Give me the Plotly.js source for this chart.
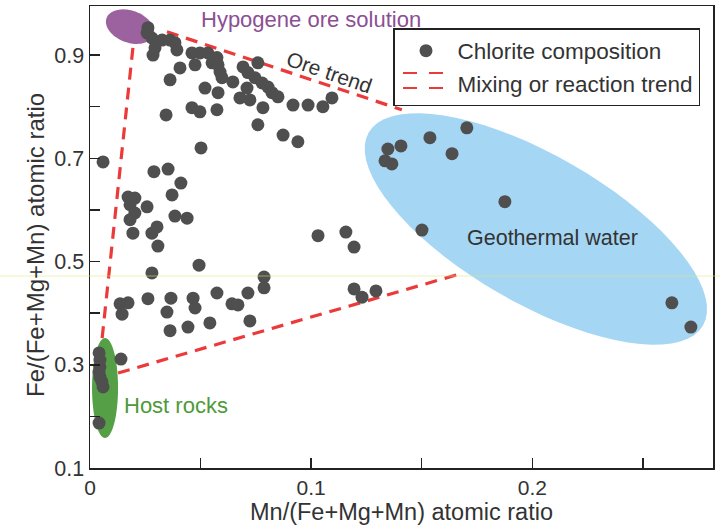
<!DOCTYPE html>
<html>
<head>
<meta charset="utf-8">
<script src="https://cdn.plot.ly/plotly-3.0.1.min.js"></script>
<style>html,body{margin:0;padding:0;background:#fff;}#chart{width:720px;height:525px;}</style>
</head>
<body>
<div id="chart"></div>
<script>
// Chlorite composition: Mn/(Fe+Mg+Mn) vs Fe/(Fe+Mg+Mn)
const chloriteMn = [
  0.0262,0.0258,0.0280,0.0294,0.0285,0.0326,0.0362,0.0384,0.0393,0.0407,0.0362,0.0344,
  0.0461,0.0475,0.0497,0.0533,0.0552,0.0574,0.0579,0.0588,0.0597,0.0520,0.0579,0.0461,
  0.0497,0.0574,0.0502,0.0646,0.0692,0.0714,0.0746,0.0778,0.0805,0.0823,0.0850,0.0759,
  0.0710,0.0678,0.0723,0.0782,0.0759,0.0873,0.0940,0.0918,0.0986,0.1053,0.1094,0.0059,
  0.0289,0.0353,0.0411,0.0371,0.0172,0.0203,0.0181,0.0258,0.0203,0.0181,0.0384,0.0439,
  0.0194,0.0280,0.0303,0.0307,
  0.0280,0.0493,0.0787,0.0787,0.0714,0.0574,0.0642,0.0669,0.0466,0.0475,0.0366,0.0348,
  0.0262,0.0136,0.0172,0.0145,0.0362,0.0443,0.0542,0.0723,0.0140,
  0.0041,0.0045,0.0045,0.0041,0.0045,0.0054,0.0059,0.0041,
  0.1031,0.1157,0.1194,0.1194,0.1230,0.1293,
  0.1704,0.1537,0.1406,0.1347,0.1334,0.1365,0.1637,0.1501,0.1876,0.2631,0.2717
];
const chloriteFe = [
  0.953,0.943,0.933,0.914,0.900,0.929,0.929,0.924,0.910,0.875,0.852,0.784,
  0.904,0.881,0.904,0.904,0.885,0.895,0.881,0.867,0.856,0.836,0.827,0.798,
  0.790,0.794,0.720,0.848,0.877,0.866,0.856,0.846,0.838,0.827,0.819,0.885,
  0.836,0.817,0.813,0.798,0.765,0.745,0.732,0.803,0.803,0.800,0.817,0.693,
  0.674,0.679,0.652,0.629,0.625,0.623,0.610,0.606,0.594,0.581,0.588,0.584,
  0.555,0.555,0.567,0.530,
  0.478,0.493,0.470,0.449,0.439,0.439,0.418,0.416,0.429,0.410,0.429,0.402,
  0.428,0.418,0.420,0.398,0.366,0.373,0.381,0.385,0.311,
  0.323,0.309,0.296,0.286,0.276,0.267,0.257,0.187,
  0.550,0.557,0.528,0.447,0.431,0.443,
  0.759,0.740,0.724,0.718,0.695,0.689,0.709,0.561,0.616,0.420,0.373
];

// Mixing / reaction trend lines (endpoints in data units)
const leftTrendX = [0.0194, 0.0054];
const leftTrendY = [0.914, 0.348];
const oreTrendX = [0.0348, 0.1410];
const oreTrendY = [0.945, 0.794];
const lowTrendX = [0.0127, 0.1673];
const lowTrendY = [0.284, 0.476];

const xTickVals = [0, 0.05, 0.1, 0.15, 0.2, 0.25];
const xTickText = ['0', '', '0.1', '', '0.2', ''];
const yTickVals = [0.1, 0.2, 0.3, 0.4, 0.5, 0.6, 0.7, 0.8, 0.9];
const yTickText = ['0.1', '', '0.3', '', '0.5', '', '0.7', '', '0.9'];

const W = 720, H = 525;
const M = {l: 90, r: 7, t: 6, b: 57};
const xRange = [0, 0.2817];
const yRange = [0.1, 0.995];
const pxX = (W - M.l - M.r) / (xRange[1] - xRange[0]);
const pxY = (H - M.t - M.b) / (yRange[1] - yRange[0]);

// ellipse path: centre in data units, semi-axes in screen px, angle in deg (clockwise on screen)
function ellipsePath(cx, cy, a, b, angDeg) {
  const t = angDeg * Math.PI / 180;
  let p = '';
  for (let i = 0; i <= 72; i++) {
    const u = i / 72 * 2 * Math.PI;
    const ex = a * Math.cos(u), ey = b * Math.sin(u);
    const sx = ex * Math.cos(t) - ey * Math.sin(t);
    const sy = ex * Math.sin(t) + ey * Math.cos(t);
    const dx = cx + sx / pxX, dy = cy - sy / pxY;
    p += (i === 0 ? 'M' : 'L') + dx.toFixed(5) + ',' + dy.toFixed(5);
  }
  return p + 'Z';
}

const FONT = 'Arial, "Liberation Sans", sans-serif';
const RED = '#ec3a3a';
const dashRed = {color: RED, width: 3.2, dash: '12px,8px'};

const traces = [
  {x: leftTrendX, y: leftTrendY, mode: 'lines', line: dashRed, showlegend: false, hoverinfo: 'skip'},
  {x: oreTrendX, y: oreTrendY, mode: 'lines', line: dashRed, showlegend: false, hoverinfo: 'skip'},
  {x: lowTrendX, y: lowTrendY, mode: 'lines', line: dashRed, showlegend: false, hoverinfo: 'skip'},
  {x: chloriteMn, y: chloriteFe, mode: 'markers', name: 'Chlorite composition',
   marker: {color: '#4f4f4f', size: 13, line: {width: 0}}},
  // legend entry for the trend lines (its symbol is drawn as a double dash below)
  {x: [null], y: [null], mode: 'lines', name: 'Mixing or reaction trend',
   line: {color: 'rgba(0,0,0,0)', width: 1}, hoverinfo: 'skip'}
];

function pxToPaperX(px) { return (px - M.l) / (W - M.l - M.r); }
function pxToPaperY(py) { return (H - M.b - py) / (H - M.t - M.b); }

const legendTopPx = 28;
const legendDashes = [];
[73, 88].forEach(function (rowY) {
  [[403, 417], [429, 443]].forEach(function (seg) {
    legendDashes.push({type: 'line', xref: 'paper', yref: 'paper', layer: 'above',
      x0: pxToPaperX(seg[0]), x1: pxToPaperX(seg[1]),
      y0: pxToPaperY(rowY), y1: pxToPaperY(rowY),
      line: {color: RED, width: 2}});
  });
});

const layout = {
  width: W, height: H,
  margin: M,
  paper_bgcolor: '#fff', plot_bgcolor: '#fff',
  font: {family: FONT, size: 22, color: '#333'},
  xaxis: {
    range: xRange, tickvals: xTickVals, ticktext: xTickText,
    ticks: 'inside', ticklen: 10, tickwidth: 1.5, tickcolor: '#222',
    showline: true, linecolor: '#222', linewidth: 1.5, mirror: true,
    showgrid: false, zeroline: false,
    tickfont: {size: 21, color: '#333'},
    title: {text: 'Mn/(Fe+Mg+Mn) atomic ratio', font: {size: 23.5, color: '#333'}, standoff: 4}
  },
  yaxis: {
    range: yRange, tickvals: yTickVals, ticktext: yTickText,
    ticks: 'inside', ticklen: 10, tickwidth: 1.5, tickcolor: '#222',
    showline: true, linecolor: '#222', linewidth: 1.5, mirror: true,
    showgrid: false, zeroline: false,
    tickfont: {size: 21.5, color: '#333'},
    title: {text: ''}
  },
  legend: {
    x: pxToPaperX(393), y: pxToPaperY(legendTopPx), xanchor: 'left', yanchor: 'top',
    bgcolor: 'rgba(0,0,0,0)', bordercolor: '#222', borderwidth: 1.5,
    font: {size: 22.5, color: '#333'},
    itemwidth: 53
  },
  shapes: [
    {type: 'path', layer: 'below', path: ellipsePath(0.2016, 0.563, 193, 74, 30),
     fillcolor: '#a5d6f3', line: {width: 0}},
    {type: 'path', layer: 'below', path: ellipsePath(0.0181, 0.955, 25, 16, 20),
     fillcolor: '#9c62a0', line: {width: 0}},
    {type: 'path', layer: 'below', path: ellipsePath(0.0068, 0.255, 13, 50, 0),
     fillcolor: '#55a046', line: {width: 0}},
    {type: 'line', xref: 'paper', yref: 'paper', layer: 'above',
     x0: pxToPaperX(0), x1: pxToPaperX(720), y0: pxToPaperY(276), y1: pxToPaperY(276),
     line: {color: 'rgba(225,232,120,0.55)', width: 1}}
  ].concat(legendDashes),
  annotations: [
    {xref: 'paper', yref: 'paper', x: pxToPaperX(35), y: pxToPaperY(245),
     xanchor: 'center', yanchor: 'middle',
     text: 'Fe/(Fe+Mg+Mn) atomic ratio', showarrow: false, textangle: -90,
     font: {size: 24, color: '#333'}},
    {x: 0.0999, y: 0.968, text: 'Hypogene ore solution', showarrow: false,
     font: {size: 22, color: '#8c4f94'}},
    {x: 0.1085, y: 0.866, text: 'Ore trend', showarrow: false, textangle: 19,
     font: {size: 21, color: '#333'}},
    {x: 0.2089, y: 0.546, text: 'Geothermal water', showarrow: false,
     font: {size: 21.5, color: '#333'}},
    {x: 0.0389, y: 0.222, text: 'Host rocks', showarrow: false,
     font: {size: 22, color: '#4e9a3a'}}
  ]
};

Plotly.newPlot('chart', traces, layout, {staticPlot: true, displayModeBar: false});
</script>
</body>
</html>
